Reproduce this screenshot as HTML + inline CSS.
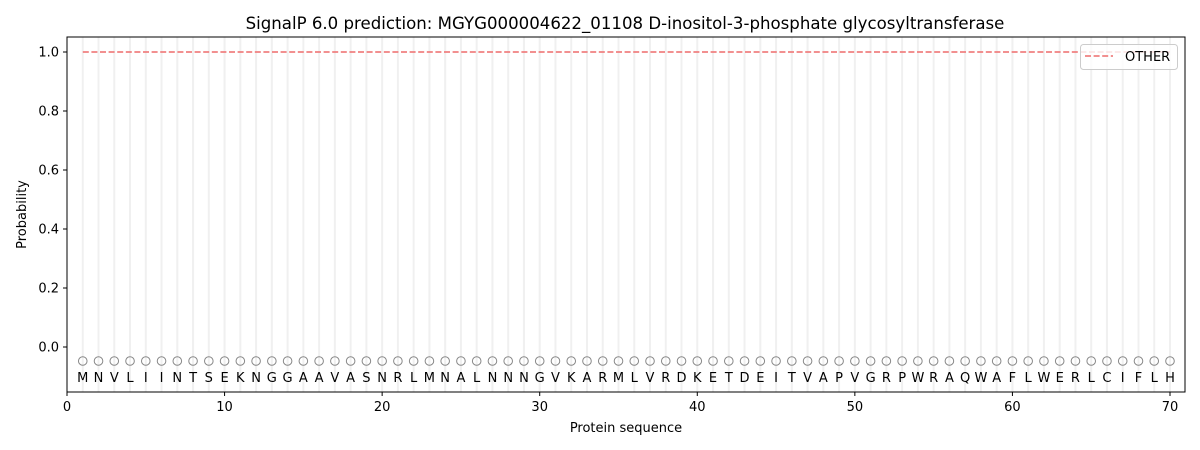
<!DOCTYPE html>
<html><head><meta charset="utf-8"><style>body{margin:0;background:#fff}svg{display:block;font-family:"DejaVu Sans","Liberation Sans",sans-serif}</style></head>
<body>
<svg id="s" width="1200" height="450" xmlns="http://www.w3.org/2000/svg">
<rect width="1200" height="450" fill="#fff"/>
<g id="grid"></g>
<line x1="82.8" y1="52" x2="1170" y2="52" stroke="#f08080" stroke-width="1.8" stroke-dasharray="6,2.6"/>
<g id="marks" font-size="13" fill="#000" text-anchor="middle"></g>
<rect x="67" y="37" width="1118" height="355" fill="none" stroke="#000" stroke-width="1"/>
<g id="ticks" font-size="13" fill="#000"></g>
<text x="625" y="29" font-size="16.6" text-anchor="middle">SignalP 6.0 prediction: MGYG000004622_01108 D-inositol-3-phosphate glycosyltransferase</text>
<text x="626" y="432" font-size="13" text-anchor="middle">Protein sequence</text>
<text transform="translate(26,214.5) rotate(-90)" font-size="13" text-anchor="middle">Probability</text>
<rect x="1080.5" y="44.5" width="97" height="25" rx="3" fill="#fff" fill-opacity="0.8" stroke="#ccc"/>
<line x1="1085" y1="56" x2="1113" y2="56" stroke="#f08080" stroke-width="1.8" stroke-dasharray="6,2.6"/>
<text x="1125" y="61" font-size="13">OTHER</text>
</svg>
<script>
const seq="MNVLIINTSEKNGGAAVASNRLMNALNNNGVKARMLVRDKETDEITVAPVGRPWRAQWAFLWERLCIFLH";
const X=i=>67+i*15.757, Y=v=>347-v*295;
let g="",m="",t="";
for(let i=1;i<=70;i++){const x=X(i);
g+=`<line x1="${x}" y1="37" x2="${x}" y2="392" stroke="#f0f0f0" stroke-width="2"/>`;
m+=`<circle cx="${x}" cy="361" r="4.3" fill="none" stroke="#888" stroke-width="1"/><text x="${x}" y="382">${seq[i-1]}</text>`;}
for(let k=0;k<=70;k+=10){const x=X(k);t+=`<line x1="${x}" y1="392" x2="${x}" y2="396" stroke="#000"/><text x="${x}" y="411" text-anchor="middle">${k}</text>`;}
for(let k=0;k<=5;k++){const v=k*0.2,y=Y(v);t+=`<line x1="63" y1="${y}" x2="67" y2="${y}" stroke="#000"/><text x="59" y="${y+4.5}" text-anchor="end">${v.toFixed(1)}</text>`;}
document.getElementById("grid").innerHTML=g;
document.getElementById("marks").innerHTML=m;
document.getElementById("ticks").innerHTML=t;
</script>
</body></html>
